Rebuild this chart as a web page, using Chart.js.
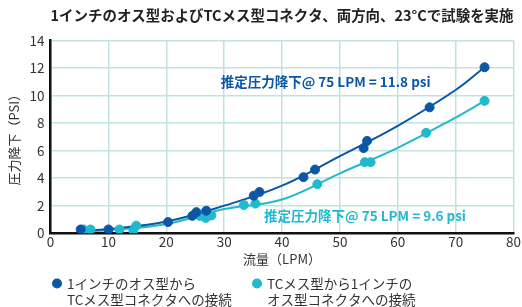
<!DOCTYPE html>
<html>
<head>
<meta charset="utf-8">
<script src="https://cdn.jsdelivr.net/npm/chart.js"></script>
<style>
  html, body { margin: 0; padding: 0; background: #fff; }
  .chart-box { width: 522px; height: 307px; }
</style>
</head>
<body>
<div class="chart-box">
  <canvas id="dropChart"></canvas>
</div>
<script>
  // measured points (LPM, psi)
  const maleToTcX = [5.2, 10, 20.3, 24.5, 25.2, 26.9, 35.1, 36.1, 43.7, 45.7, 54.1, 54.7, 65.5, 75];
  const maleToTcY = [0.27, 0.27, 0.81, 1.26, 1.53, 1.63, 2.72, 2.99, 4.07, 4.62, 6.18, 6.7, 9.14, 12.05];
  const tcToMaleX = [5.7, 6.9, 11.9, 14.3, 14.8, 25.8, 26.8, 27.8, 33.4, 35.4, 46.1, 54.3, 55.3, 64.9, 75];
  const tcToMaleY = [0.27, 0.27, 0.27, 0.2, 0.55, 1.26, 1.11, 1.29, 2.05, 2.15, 3.56, 5.16, 5.16, 7.29, 9.61];

  // trend curves
  const trendX = [5, 10, 20, 30, 40, 50, 60, 70, 75];
  const maleToTcTrend = [0.15, 0.3, 0.85, 2.0, 3.45, 5.6, 7.8, 10.4, 12.05];
  const tcToMaleTrend = [0.15, 0.22, 0.67, 1.75, 2.45, 4.35, 6.2, 8.4, 9.61];

  const legendLabels = [
    ["1インチのオス型から", "TCメス型コネクタへの接続"],
    ["TCメス型から1インチの", "オス型コネクタへの接続"]
  ];
  const notes = ["推定圧力降下@ 75 LPM = 11.8 psi", "推定圧力降下@ 75 LPM = 9.6 psi"];

  const darkBlue = "#0b57a6";
  const cyan = "#22b9cf";
  const jpFont = "'Noto Sans CJK JP', 'Noto Sans', sans-serif";

  const toXY = (xs, ys) => xs.map((x, i) => ({ x, y: ys[i] }));

  // notes on the plot + two-line legend under the axis
  const extrasPlugin = {
    id: "extras",
    afterDatasetsDraw(chart) {
      const { ctx, scales } = chart;
      ctx.save();
      ctx.font = "bold 13.5px " + jpFont;
      ctx.textBaseline = "middle";
      ctx.fillStyle = darkBlue;
      ctx.fillText(notes[0], scales.x.getPixelForValue(29.4), scales.y.getPixelForValue(11.0));
      ctx.fillStyle = cyan;
      ctx.fillText(notes[1], scales.x.getPixelForValue(36.9), scales.y.getPixelForValue(1.25));
      ctx.restore();
    },
    afterDraw(chart) {
      const ctx = chart.ctx;
      const colors = [darkBlue, cyan];
      const starts = [57, 257];
      ctx.save();
      ctx.font = "13.5px " + jpFont;
      ctx.textBaseline = "middle";
      legendLabels.forEach((lines, i) => {
        ctx.fillStyle = colors[i];
        ctx.beginPath();
        ctx.arc(starts[i], 283.5, 5, 0, Math.PI * 2);
        ctx.fill();
        ctx.fillStyle = "#333";
        lines.forEach((t, j) => ctx.fillText(t, starts[i] + 10, 283.5 + j * 16));
      });
      ctx.restore();
    }
  };

  Chart.defaults.font.family = jpFont;
  Chart.defaults.color = "#333";

  new Chart(document.getElementById("dropChart"), {
    type: "scatter",
    data: {
      datasets: [
        {
          label: legendLabels[0].join(""),
          data: toXY(maleToTcX, maleToTcY),
          backgroundColor: darkBlue,
          borderColor: darkBlue,
          pointRadius: 4.5
        },
        {
          label: legendLabels[1].join(""),
          data: toXY(tcToMaleX, tcToMaleY),
          backgroundColor: cyan,
          borderColor: cyan,
          pointRadius: 4.5
        },
        {
          label: "trend1",
          data: toXY(trendX, maleToTcTrend),
          showLine: true,
          tension: 0.4,
          borderColor: darkBlue,
          borderWidth: 2,
          pointRadius: 0
        },
        {
          label: "trend2",
          data: toXY(trendX, tcToMaleTrend),
          showLine: true,
          tension: 0.4,
          borderColor: cyan,
          borderWidth: 2,
          pointRadius: 0
        }
      ]
    },
    options: {
      responsive: true,
      maintainAspectRatio: false,
      animation: false,
      layout: { padding: { left: 2, right: -3, top: 5, bottom: 40 } },
      plugins: {
        tooltip: { enabled: false },
        legend: { display: false },
        title: {
          display: true,
          fullSize: false,
          text: "1インチのオス型およびTCメス型コネクタ、両方向、23°Cで試験を実施",
          color: "#222",
          font: { size: 14.5, weight: "bold" },
          padding: { top: 2, bottom: 16 }
        }
      },
      scales: {
        x: {
          type: "linear",
          min: 0,
          max: 80,
          ticks: { stepSize: 10, font: { size: 13.5 }, color: "#333", padding: 1 },
          grid: { color: "#bfe3e3", lineWidth: 1.5, drawTicks: false },
          border: { color: "#111", width: 2.5 },
          title: { display: true, text: "流量（LPM）", font: { size: 13 }, color: "#333", padding: { top: 0, bottom: 0 } }
        },
        y: {
          min: 0,
          max: 14,
          ticks: { stepSize: 2, font: { size: 13.5 }, color: "#333", padding: 6 },
          grid: { color: "#bfe3e3", lineWidth: 1.5, drawTicks: false },
          border: { color: "#111", width: 2.5 },
          title: { display: true, text: "圧力降下（PSI）", font: { size: 13 }, color: "#333", padding: { bottom: 2 } }
        }
      }
    },
    plugins: [extrasPlugin]
  });
</script>
</body>
</html>
